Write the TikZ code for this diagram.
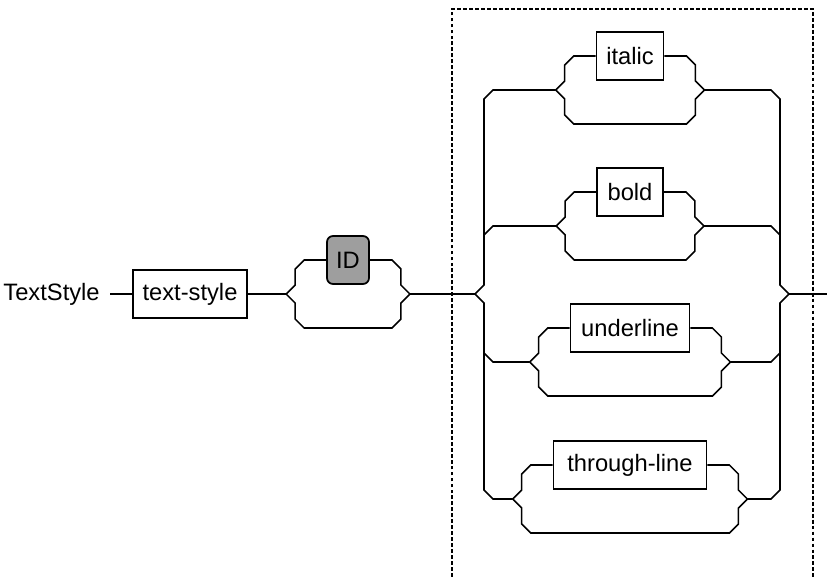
\documentclass[tikz,border=0pt]{standalone}
\usepackage{fontspec}
\setmainfont{Liberation Sans}
\usetikzlibrary{calc}

\begin{document}
\begin{tikzpicture}[
    x=0.02cm, y=-0.02cm,
    every node/.style={font=\fontsize{13.5}{16}\selectfont},
    term/.style={draw=black, line width=1pt, minimum height=0.96cm, inner sep=0pt},
    ident/.style={term, rounded corners=0.12cm, fill=black!38},
    rail/.style={line width=0.9pt, draw=black},
    frame/.style={line width=0.75pt, dash pattern=on 2.2pt off 1.2pt}
]
\useasboundingbox (0,0) rectangle (827,577);
\node[anchor=east, inner xsep=0.2cm] (lbl) at (110,294) {TextStyle};
\node[term, minimum width=2.28cm] (txt) at (190,294) {text-style};
\node[ident, minimum width=0.84cm] (ID) at (348,260) {ID};
% options inside the dashed frame
\foreach \nm/\txt/\y/\w in {italic/italic/56/1.34cm, bold/bold/192/1.32cm, underline/underline/328/2.38cm, through/through-line/465/3.06cm}{
    \node[term, minimum width=\w] (\nm) at (630,\y) {\txt};
}
% optional loop round each box
\foreach \nm in {ID, italic, bold, underline, through}{
    \draw[rail] (\nm.west) -- ++(-22,0) -- ++(-9,9) -- ++(0,16) -- ++(-9,9) coordinate (\nm-l)
        -- ++(9,9) -- ++(0,16) -- ++(9,9) -- ($(\nm.east)+(22,68)$) -- ++(9,-9) -- ++(0,-16) -- ++(9,-9) coordinate (\nm-r)
        -- ++(-9,-9) -- ++(0,-16) -- ++(-9,-9) -- (\nm.east);
}
\coordinate (bl) at (475,294);
\coordinate (br) at (789,294);
\coordinate (out) at (827,294);
\draw[rail] (lbl) -- (txt) -- (ID-l);
\draw[rail] (ID-r) -- (bl);
\draw[rail] (br) -- (out);
% left rail
\draw[rail] (italic-l) -- ($(bl |- italic-l)+(18,0)$) -- ++(-9,9) -- ($(bl)+(9,-9)$) -- (bl)
    -- ++(9,9) -- ($(bl |- through-l)+(9,-9)$) -- ++(9,9) -- (through-l);
\draw[rail] ($(bl |- bold-l)+(9,9)$) -- ++(9,-9) -- (bold-l);
\draw[rail] ($(bl |- underline-l)+(9,-9)$) -- ++(9,9) -- (underline-l);
% right rail
\draw[rail] (italic-r) -- ($(br |- italic-r)+(-18,0)$) -- ++(9,9) -- ($(br)+(-9,-9)$) -- (br)
    -- ++(-9,9) -- ($(br |- through-r)+(-9,-9)$) -- ++(-9,9) -- (through-r);
\draw[rail] ($(br |- bold-r)+(-9,9)$) -- ++(-9,-9) -- (bold-r);
\draw[rail] ($(br |- underline-r)+(-9,-9)$) -- ++(-9,9) -- (underline-r);
\draw[frame] (452,577) -- (452,9) -- (813,9) -- (813,577);
\end{tikzpicture}
\end{document}
